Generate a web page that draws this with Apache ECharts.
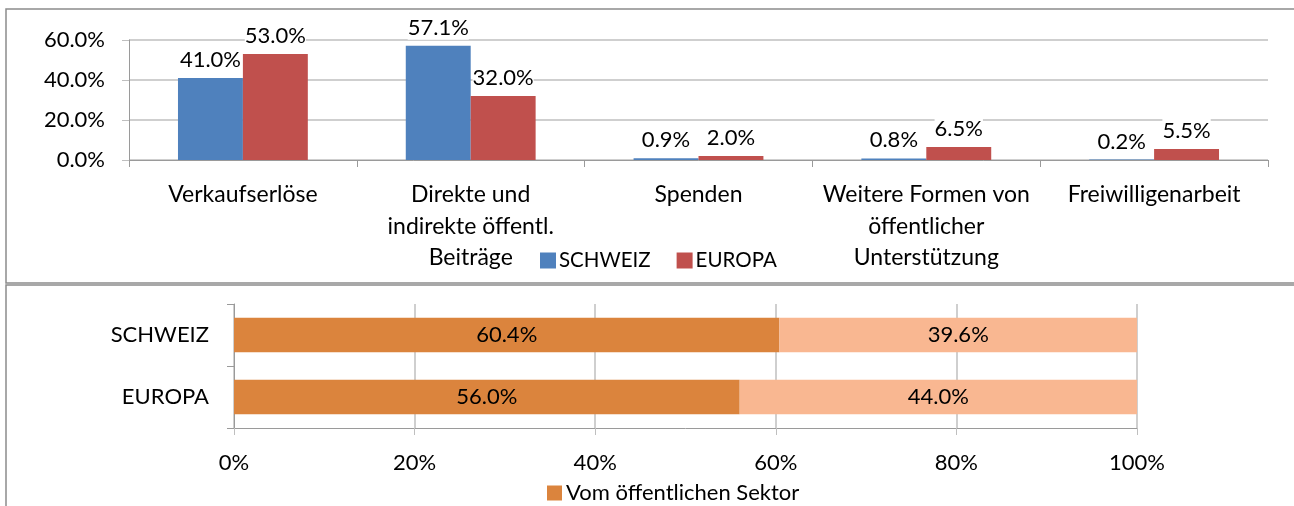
<!DOCTYPE html>
<html>
<head>
<meta charset="utf-8">
<script src="https://cdn.jsdelivr.net/npm/echarts@6/dist/echarts.min.js"></script>
<style>
html,body{margin:0;padding:0;background:#fff;}
#chart{width:1294px;height:506px;}
</style>
</head>
<body>
<div id="chart"></div>
<script>
// Einnahmequellen (oben)
var categories = ['Verkaufserlöse', 'Direkte und\nindirekte öffentl.\nBeiträge', 'Spenden', 'Weitere Formen von\nöffentlicher\nUnterstützung', 'Freiwilligenarbeit'];
var schweiz = [41.0, 57.1, 0.9, 0.8, 0.2];
var europa = [53.0, 32.0, 2.0, 6.5, 5.5];
var yTicks = [0, 20, 40, 60];

// Anteil öffentlicher Sektor (unten)
var regions = ['SCHWEIZ', 'EUROPA'];
var oeffentlich = [60.4, 56.0];
var privat = [39.6, 44.0];
var xTicks = [0, 20, 40, 60, 80, 100];

var FONT = 'Lato, "Open Sans", sans-serif';
var gridGrey = '#BFBFBF';
var axisGrey = '#9A9A9A';

function pct1(p) { return p.value.toFixed(1) + '%'; }

var chart = echarts.init(document.getElementById('chart'));

var option = {
    animation: false,
    textStyle: { fontFamily: FONT, color: '#000' },
    graphic: [
        { type: 'rect', shape: { x: 6, y: 9, width: 1300, height: 274 }, style: { fill: 'none', stroke: '#8C8C8C', lineWidth: 1.5 }, silent: true },
        { type: 'rect', shape: { x: 6, y: 285, width: 1300, height: 240 }, style: { fill: 'none', stroke: '#8C8C8C', lineWidth: 1.5 }, silent: true }
    ],
    legend: [
        {
            data: ['SCHWEIZ', 'EUROPA'],
            left: 535, top: 245,
            itemWidth: 16, itemHeight: 16, itemGap: 26,
            icon: 'rect',
            textStyle: { fontFamily: FONT, fontSize: 20.5, color: '#000', padding: [0, 0, 0, -2] }
        },
        {
            data: ['Vom öffentlichen Sektor'],
            left: 542, top: 477,
            itemWidth: 15, itemHeight: 15, itemGap: 20,
            icon: 'rect',
            textStyle: { fontFamily: FONT, fontSize: 22, color: '#000', padding: [0, 0, 0, -1] }
        }
    ],
    grid: [
        { left: 129, right: 26, top: 40, bottom: 346 },
        { left: 234, right: 157, top: 304, bottom: 78 }
    ],
    xAxis: [
        {
            gridIndex: 0,
            type: 'category',
            data: categories,
            axisLine: { lineStyle: { color: axisGrey } },
            axisTick: { show: true, length: 7, lineStyle: { color: axisGrey } },
            axisLabel: { fontFamily: FONT, fontSize: 23, color: '#000', lineHeight: 31.5, margin: 19, interval: 0 }
        },
        {
            gridIndex: 1,
            type: 'value',
            min: xTicks[0], max: xTicks[xTicks.length - 1], interval: xTicks[1] - xTicks[0],
            axisLine: { show: true, lineStyle: { color: axisGrey } },
            axisTick: { show: true, length: 7, lineStyle: { color: gridGrey } },
            splitLine: { show: true, lineStyle: { color: gridGrey, width: 1.5 } },
            axisLabel: { fontFamily: FONT, fontSize: 22, color: '#000', margin: 24, formatter: '{value}%' }
        }
    ],
    yAxis: [
        {
            gridIndex: 0,
            type: 'value',
            min: yTicks[0], max: yTicks[yTicks.length - 1], interval: yTicks[1] - yTicks[0],
            axisLine: { show: true, lineStyle: { color: axisGrey } },
            axisTick: { show: true, length: 7, lineStyle: { color: gridGrey } },
            splitLine: { show: true, lineStyle: { color: gridGrey, width: 1.5 } },
            axisLabel: {
                fontFamily: FONT, fontSize: 22, color: '#000', margin: 24,
                formatter: function (v) { return v.toFixed(1) + '%'; }
            }
        },
        {
            gridIndex: 1,
            type: 'category',
            inverse: true,
            data: regions,
            axisLine: { lineStyle: { color: axisGrey } },
            axisTick: { show: true, length: 7, lineStyle: { color: axisGrey } },
            axisLabel: { fontFamily: FONT, fontSize: 22, color: '#000', margin: 25 }
        }
    ],
    series: [
        {
            name: 'SCHWEIZ',
            type: 'bar',
            xAxisIndex: 0, yAxisIndex: 0,
            data: schweiz,
            barGap: '0%',
            barCategoryGap: '43%',
            itemStyle: { color: '#4F81BD' },
            label: {
                show: true, position: 'top', distance: 6,
                fontFamily: FONT, fontSize: 22, color: '#000',
                backgroundColor: '#fff', padding: [1, 0],
                formatter: pct1
            }
        },
        {
            name: 'EUROPA',
            type: 'bar',
            xAxisIndex: 0, yAxisIndex: 0,
            data: europa,
            barGap: '0%',
            barCategoryGap: '43%',
            itemStyle: { color: '#C0504D' },
            label: {
                show: true, position: 'top', distance: 6,
                fontFamily: FONT, fontSize: 22, color: '#000',
                backgroundColor: '#fff', padding: [1, 0],
                formatter: pct1
            }
        },
        {
            name: 'Vom öffentlichen Sektor',
            type: 'bar',
            stack: 'anteil',
            xAxisIndex: 1, yAxisIndex: 1,
            data: oeffentlich,
            barCategoryGap: '44%',
            itemStyle: { color: '#DB843D' },
            label: {
                show: true, position: 'inside',
                fontFamily: FONT, fontSize: 22, color: '#000',
                formatter: pct1
            }
        },
        {
            name: 'Privat',
            type: 'bar',
            stack: 'anteil',
            xAxisIndex: 1, yAxisIndex: 1,
            data: privat,
            barCategoryGap: '44%',
            itemStyle: { color: '#F9B791' },
            label: {
                show: true, position: 'inside',
                fontFamily: FONT, fontSize: 22, color: '#000',
                formatter: pct1
            }
        }
    ]
};

chart.setOption(option);
</script>
</body>
</html>
